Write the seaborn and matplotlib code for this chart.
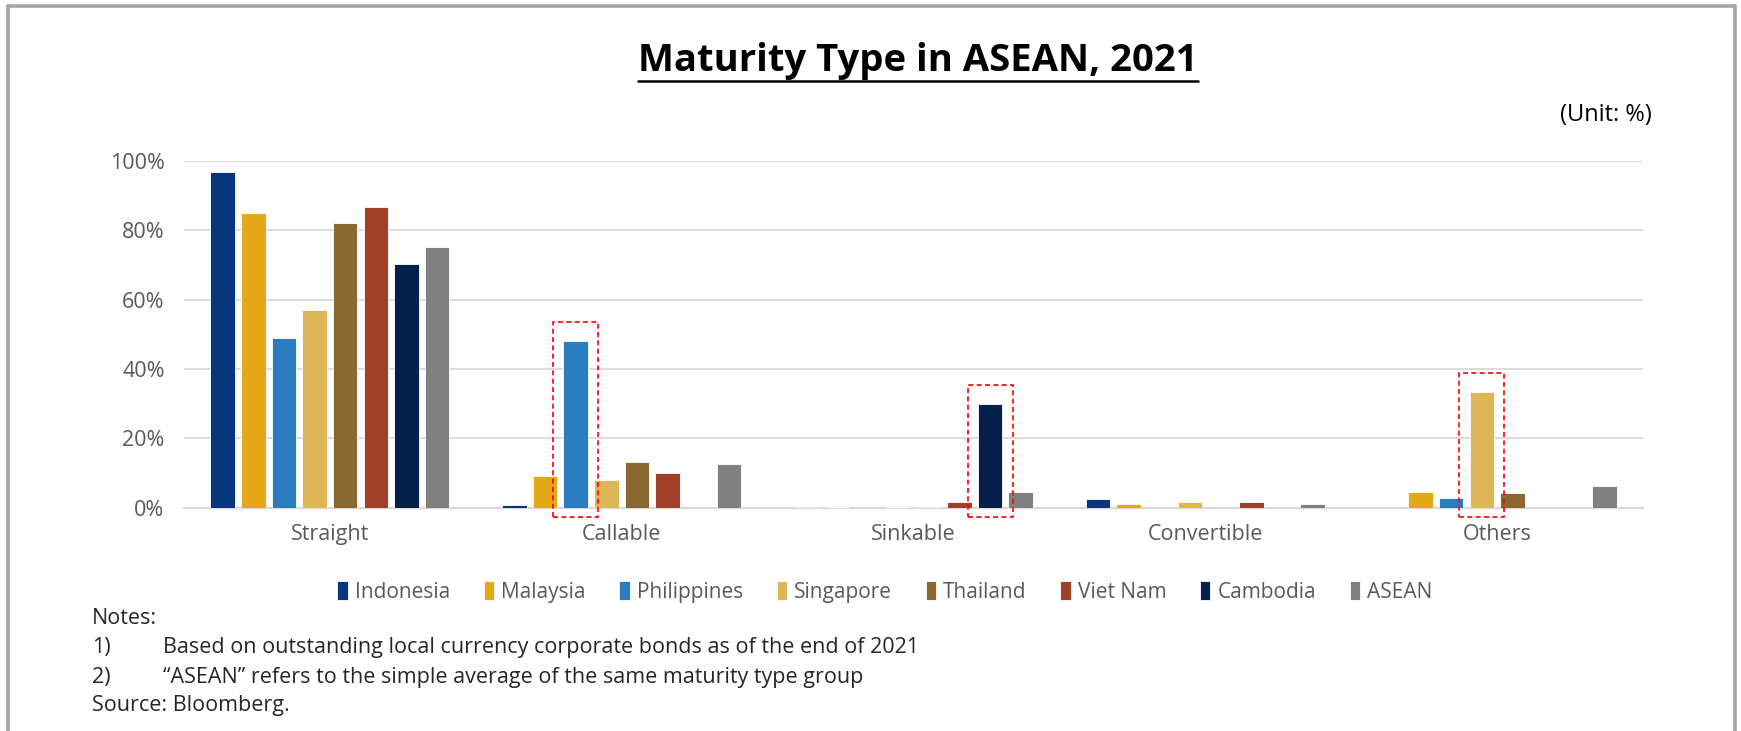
import numpy as np
import pandas as pd
import matplotlib
matplotlib.use("Agg")
import matplotlib.pyplot as plt
import seaborn as sns
from matplotlib.patches import Rectangle
from matplotlib.lines import Line2D
from matplotlib.ticker import FuncFormatter

categories = ["Straight", "Callable", "Sinkable", "Convertible", "Others"]
economies = ["Indonesia", "Malaysia", "Philippines", "Singapore",
             "Thailand", "Viet Nam", "Cambodia", "ASEAN"]
indonesia = [96.6, 0.7, 0.1, 2.5, 0.0]
malaysia = [84.8, 9.1, 0.2, 1.1, 4.4]
philippines = [49.0, 48.1, 0.0, 0.0, 2.8]
singapore = [56.9, 7.9, 0.2, 1.5, 33.4]
thailand = [82.0, 13.2, 0.3, 0.0, 4.2]
viet_nam = [86.7, 10.0, 1.6, 1.5, 0.0]
cambodia = [70.1, 0.0, 29.9, 0.0, 0.0]
asean = [75.2, 12.7, 4.5, 1.0, 6.3]
highlights = [("Callable", "Philippines"), ("Sinkable", "Cambodia"), ("Others", "Singapore")]

colors = ["#08367A", "#E6A817", "#2B7BBF", "#DCB657",
          "#8B6830", "#A04028", "#062149", "#808080"]

series = [indonesia, malaysia, philippines, singapore, thailand, viet_nam, cambodia, asean]
rows = []
for eco, vals in zip(economies, series):
    for cat, v in zip(categories, vals):
        rows.append({"Type": cat, "Economy": eco, "Share": v})
df = pd.DataFrame(rows)

sns.set_theme(style="white")
plt.rcParams["font.family"] = ["Open Sans", "DejaVu Sans"]

W, H = 1741, 731
fig = plt.figure(figsize=(W / 100, H / 100), dpi=100)
ax = fig.add_axes([184 / W, 1 - 507.7 / H, (1643 - 184) / W, (507.7 - 160.7) / H])

sns.barplot(data=df, x="Type", y="Share", hue="Economy", order=categories,
            hue_order=economies, palette=colors, saturation=1, width=0.84, gap=0.2,
            edgecolor="white", linewidth=0.6, ax=ax, legend=True, zorder=3)

ax.set_ylim(0, 100)
ax.set_xlim(-0.5, len(categories) - 0.5)
ax.set_yticks(np.arange(0, 101, 20))
ax.yaxis.set_major_formatter(FuncFormatter(lambda v, p: f"{int(v)}%"))
ax.grid(axis="y", color="#D9D9D9", linewidth=1.3, zorder=0)
ax.set_axisbelow(True)
for s in ["top", "right", "left"]:
    ax.spines[s].set_visible(False)
ax.spines["bottom"].set_color("#D9D9D9")
ax.spines["bottom"].set_linewidth(1.6)
ax.set_xlabel("")
ax.set_ylabel("")
ax.tick_params(axis="both", length=0, colors="#595959", labelsize=15.5)
ax.tick_params(axis="y", pad=14)
ax.tick_params(axis="x", pad=12)

# highlight boxes around selected bars
for cat, eco in highlights:
    bar = ax.containers[economies.index(eco)][categories.index(cat)]
    x0, w, h = bar.get_x(), bar.get_width(), bar.get_height()
    pad = 0.035
    rect = Rectangle((x0 - pad, -2.7), w + 2 * pad, h + 2.7 + 5.5, fill=False,
                     edgecolor="#FF0000", linestyle=(0, (3, 2)), linewidth=1.2,
                     clip_on=False, zorder=5)
    ax.add_patch(rect)

# legend
handles, labels = ax.get_legend_handles_labels()
ax.legend_.remove()
leg = fig.legend(handles, labels, loc="center", bbox_to_anchor=(885 / W, 1 - 592 / H),
                 ncol=8, frameon=False, fontsize=15, handlelength=0.5, handleheight=1.0,
                 handletextpad=0.35, columnspacing=1.6)
for t in leg.get_texts():
    t.set_color("#595959")

# title with underline
title = fig.text(918 / W, 1 - 61 / H, "Maturity Type in ASEAN, 2021", ha="center", va="center",
                 fontsize=27.5, fontweight="bold", color="black")
fig.text(1652 / W, 1 - 115 / H, "(Unit: %)", ha="right", va="center", fontsize=17, color="black")

fs = 15.5
notes_x1, notes_x2 = 92 / W, 163 / W
fig.text(notes_x1, 1 - 619 / H, "Notes:", ha="left", va="center", fontsize=fs)
fig.text(notes_x1, 1 - 648 / H, "1)", ha="left", va="center", fontsize=fs)
fig.text(notes_x2, 1 - 648 / H, "Based on outstanding local currency corporate bonds as of the end of 2021",
         ha="left", va="center", fontsize=fs)
fig.text(notes_x1, 1 - 677 / H, "2)", ha="left", va="center", fontsize=fs)
fig.text(notes_x2, 1 - 677 / H, "\u201cASEAN\u201d refers to the simple average of the same maturity type group",
         ha="left", va="center", fontsize=fs)
fig.text(notes_x1, 1 - 706 / H, "Source: Bloomberg.", ha="left", va="center", fontsize=fs)

# border lines (left, top, right)
bc = "#A6A6A6"
fig.add_artist(Line2D([8 / W, 8 / W], [0, 1 - 5.5 / H], color=bc, linewidth=2.6, transform=fig.transFigure))
fig.add_artist(Line2D([8 / W, 1735 / W], [1 - 5.5 / H, 1 - 5.5 / H], color=bc, linewidth=2.6, transform=fig.transFigure))
fig.add_artist(Line2D([1735 / W, 1735 / W], [0, 1 - 5.5 / H], color=bc, linewidth=2.6, transform=fig.transFigure))

fig.canvas.draw()
bb = title.get_window_extent(renderer=fig.canvas.get_renderer())
uy = (bb.y0 - 1) / H
fig.add_artist(Line2D([bb.x0 / W, bb.x1 / W], [uy, uy], color="black", linewidth=1.8,
                      transform=fig.transFigure))

fig.savefig("out.png", dpi=100)
